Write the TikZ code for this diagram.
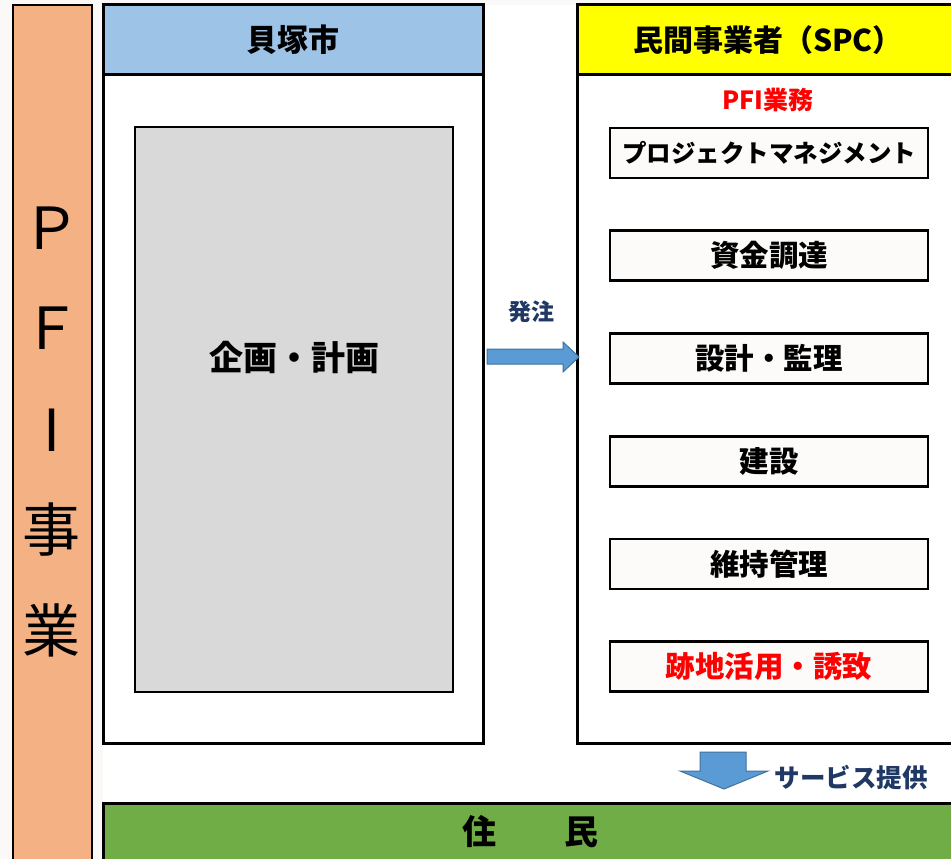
\documentclass[tikz,border=0pt]{standalone}
\usepackage{fontspec}
\newfontfamily\jp{Noto Sans CJK JP}
\definecolor{bgoff}{HTML}{FAF9F7}
\definecolor{cityblue}{HTML}{9DC3E6}
\definecolor{spcyellow}{HTML}{FFFF00}
\definecolor{pfiorange}{HTML}{F4B183}
\definecolor{resgreen}{HTML}{70AD47}
\definecolor{plangray}{HTML}{D9D9D9}
\definecolor{arrowfill}{HTML}{5B9BD5}
\definecolor{arrowline}{HTML}{41719C}
\definecolor{navy}{HTML}{1F3864}
\definecolor{taskfill}{HTML}{FCFBFA}
\begin{document}
\begin{tikzpicture}[x=1pt,y=-1pt,
  thickbox/.style={draw=black, line width=3pt, inner sep=0pt, outer sep=0pt},
  thinbox/.style={draw=black, line width=1.3pt, inner sep=0pt, outer sep=0pt},
  taskbox/.style={draw=black, line width=2.5pt, fill=taskfill, minimum width=318, minimum height=50, inner sep=0pt, font=\jp\bfseries\fontsize{29.5}{32}\selectfont},
  hdrtxt/.style={font=\jp\bfseries\fontsize{30}{32}\selectfont, inner sep=0pt},
  bigtxt/.style={font=\jp\bfseries\fontsize{34}{38}\selectfont, inner sep=0pt},
  vtxt/.style={font=\jp\fontsize{58}{60}\selectfont, inner sep=0pt},
  navytxt/.style={font=\jp\bfseries\fontsize{23}{26}\selectfont, text=navy, inner sep=0pt},
  blockarrow/.style={fill=arrowfill, draw=arrowline, line width=1pt, line join=miter}
]
\useasboundingbox (0,0) rectangle (951,859);
\fill[bgoff] (0,0) rectangle (951,859);
\fill[white] (103,5) rectangle (951,859);

% left PFI bar
\node[thinbox, fill=pfiorange, minimum width=79, minimum height=865] (pfibar) at (52.5,437.5) {};
\node[vtxt] (vP) at (52,228) {Ｐ};
\node[vtxt] (vF) at (52,328) {Ｆ};
\node[vtxt] (vI) at (52,430) {I};
\node[vtxt] (vJi) at (52,530) {事};
\node[vtxt] (vGyo) at (52,630) {業};

% city column
\node[thickbox, fill=white, minimum width=380, minimum height=668] (citybody) at (293,409) {};
\node[thickbox, fill=cityblue, minimum width=380, minimum height=70, hdrtxt, font=\jp\bfseries\fontsize{31}{33}\selectfont] (cityhead) at (293,40) {貝塚市};
\node[thinbox, fill=plangray, minimum width=318, minimum height=565] (plan) at (294,409.5) {};
\node[bigtxt] (plantext) at (294,357) {企画・計画};

% SPC column
\node[thickbox, fill=white, minimum width=388, minimum height=668] (spcbody) at (771,409) {};
\node[thickbox, fill=spcyellow, minimum width=388, minimum height=70] (spchead) at (771,40) {};
\node[hdrtxt] (spctitle) at (768,40) {民間事業者（SPC）};
\node[font=\jp\bfseries\fontsize{25}{27}\selectfont, text=red, inner sep=0pt] (pfiwork) at (768,100) {PFI業務};

\node[taskbox, font=\jp\bfseries\fontsize{24.5}{26}\selectfont] (t1) at (769,153) {プロジェクトマネジメント};
\node[taskbox] (t2) at (769,255.5) {資金調達};
\node[taskbox] (t3) at (769,358.5) {設計・監理};
\node[taskbox] (t4) at (769,461.5) {建設};
\node[taskbox] (t5) at (769,564) {維持管理};
\node[taskbox, text=red] (t6) at (769,666.5) {跡地活用・誘致};

% order arrow
\node[navytxt] (order) at (531,312) {発注};
\draw[blockarrow] (487,349) -- (563,349) -- (563,342) -- (579,357) -- (563,372) -- (563,364) -- (487,364) -- cycle;

% residents
\node[thickbox, fill=resgreen, minimum width=862, minimum height=67] (residents) at (534,836.5) {};
\node[bigtxt] (restext) at (530,832) {住　　民};

% service arrow
\draw[blockarrow] (700,752) -- (746,752) -- (746,771) -- (768,771) -- (724,789) -- (680,771) -- (700,771) -- cycle;
\node[navytxt, font=\jp\bfseries\fontsize{25.5}{28}\selectfont] (service) at (851,778) {サービス提供};
\end{tikzpicture}
\end{document}
